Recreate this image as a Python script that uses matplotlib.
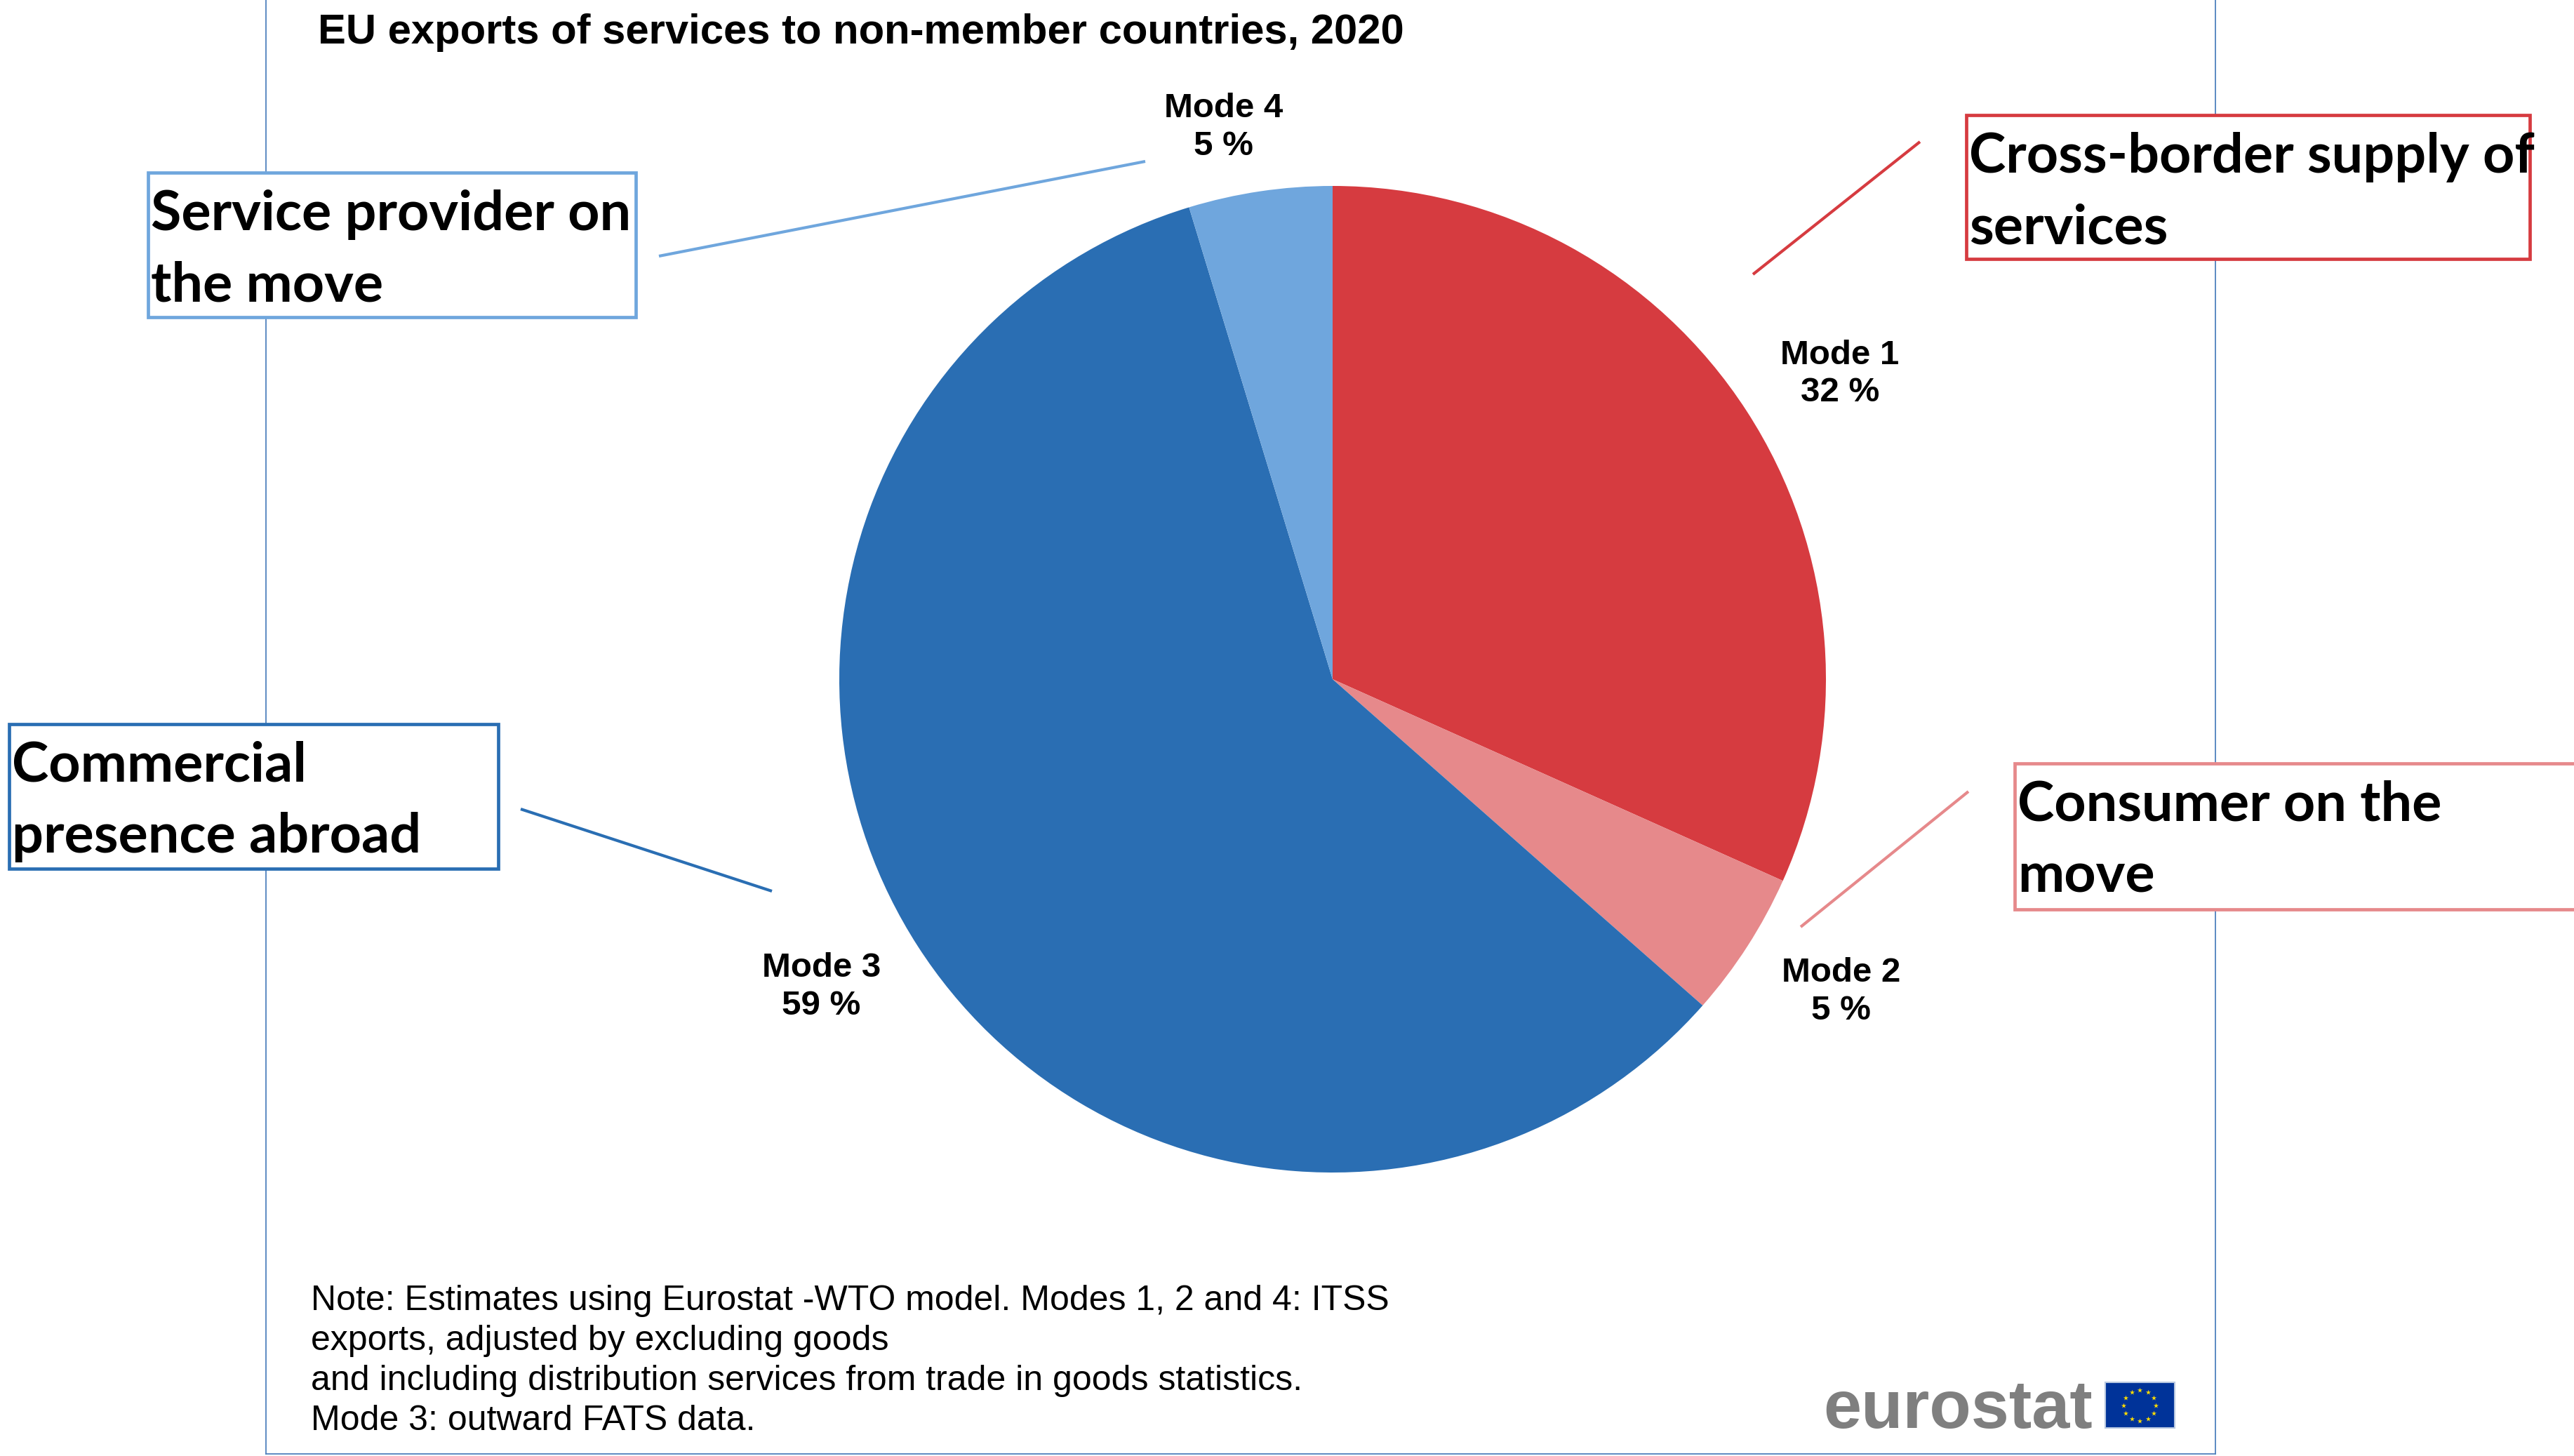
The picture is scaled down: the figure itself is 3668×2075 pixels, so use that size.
import numpy as np
import matplotlib
matplotlib.use("Agg")
import matplotlib.pyplot as plt
from matplotlib.patches import Rectangle

# Chart data
modes = ["Mode 1", "Mode 2", "Mode 3", "Mode 4"]
shares = [31.7, 4.8, 58.8, 4.7]   # % of EU services exports, 2020
colors = ["#D63B40", "#E6898B", "#2A6EB3", "#6FA6DD"]

title = "EU exports of services to non-member countries, 2020"
note_lines = [
    "Note: Estimates using Eurostat -WTO model. Modes 1, 2 and 4: ITSS",
    "exports, adjusted by excluding goods",
    "and including distribution services from trade in goods statistics.",
    "Mode 3: outward FATS data.",
]
box_labels = [
    "Cross-border supply of\nservices",
    "Consumer on the\nmove",
    "Commercial\npresence abroad",
    "Service provider on\nthe move",
]

# Layout (pixels, origin top-left)
W, H = 3668, 2075
cx, cy, R = 1899, 968, 703
# box: left, top, width, height
boxes = [(2802, 164, 803, 205), (2871, 1088, 900, 208),
         (13, 1032, 697, 206), (211, 246, 695, 206)]
connectors = [((2498, 391), (2736, 202)), ((2566, 1321), (2805, 1128)),
              ((742, 1153), (1100, 1270)), ((939, 365), (1632, 230))]
# label placement: distance (in radii) and angle tweak from wedge middle
label_dist = [1.20, 1.21, 1.21, 1.14]
label_dang = [-1.9, 1.2, -1.7, 2.7]

fig = plt.figure(figsize=(W / 100, H / 100), dpi=100)
fig.patch.set_facecolor("white")

bg = fig.add_axes([0, 0, 1, 1])
bg.set_xlim(0, W)
bg.set_ylim(H, 0)
bg.axis("off")

# outer chart frame
frame_c = "#4F81BD"
bg.plot([379, 379], [0, 2072], color=frame_c, lw=1.3, zorder=1)
bg.plot([3157, 3157], [0, 2072], color=frame_c, lw=1.3, zorder=1)
bg.plot([379, 3157], [2072, 2072], color=frame_c, lw=1.3, zorder=1)

bg.text(453, 62, title, fontsize=43, fontweight="bold",
        family="Liberation Sans", va="baseline", ha="left")

for i, line in enumerate(note_lines):
    bg.text(443, 1867 + i * 57, line, fontsize=36, family="Liberation Sans",
            va="baseline", ha="left")

# eurostat logo
bg.text(2598, 2035, "eurostat", fontsize=70, fontweight="bold",
        family="Liberation Sans", color="#7F7F7F", va="baseline", ha="left")
bg.add_patch(Rectangle((3000, 1970), 99, 65, facecolor="#003399",
                       edgecolor="#B8C8E0", lw=1.5, zorder=3))
ang = np.linspace(0, 2 * np.pi, 12, endpoint=False)
bg.scatter(3049 + 23 * np.cos(ang), 2003 + 22 * np.sin(ang), marker="*",
           s=30, color="#FFDD00", linewidths=0, zorder=4)

# annotation boxes and connectors
for (l, t, w, h), txt, col in zip(boxes, box_labels, colors):
    bg.add_patch(Rectangle((l, t), w, h, facecolor="white", edgecolor=col,
                           lw=3.4, zorder=5, clip_on=False))
    for j, line in enumerate(txt.split("\n")):
        bg.text(l + 4, t + 82 + j * 101, line, fontsize=57, fontweight="bold",
                family="Lato", va="baseline", ha="left", zorder=6)

for ((x0, y0), (x1, y1)), col in zip(connectors, colors):
    bg.plot([x0, x1], [y0, y1], color=col, lw=3.0, solid_capstyle="butt",
            zorder=2)

# pie
pie_ax = fig.add_axes([(cx - R) / W, (H - cy - R) / H, 2 * R / W, 2 * R / H])
wedges, _ = pie_ax.pie(shares, colors=colors, startangle=90,
                       counterclock=False, radius=1,
                       wedgeprops=dict(linewidth=0))
pie_ax.set_xlim(-1, 1)
pie_ax.set_ylim(-1, 1)
pie_ax.axis("off")

for w, name, val, d, da in zip(wedges, modes, shares, label_dist, label_dang):
    theta = np.deg2rad((w.theta1 + w.theta2) / 2 + da)
    pie_ax.text(d * np.cos(theta), d * np.sin(theta), f"{name}\n{round(val)} %",
                ha="center", va="center", fontsize=35.5, fontweight="bold",
                family="Liberation Sans", linespacing=1.25, clip_on=False)

fig.savefig("out.png", dpi=100)
